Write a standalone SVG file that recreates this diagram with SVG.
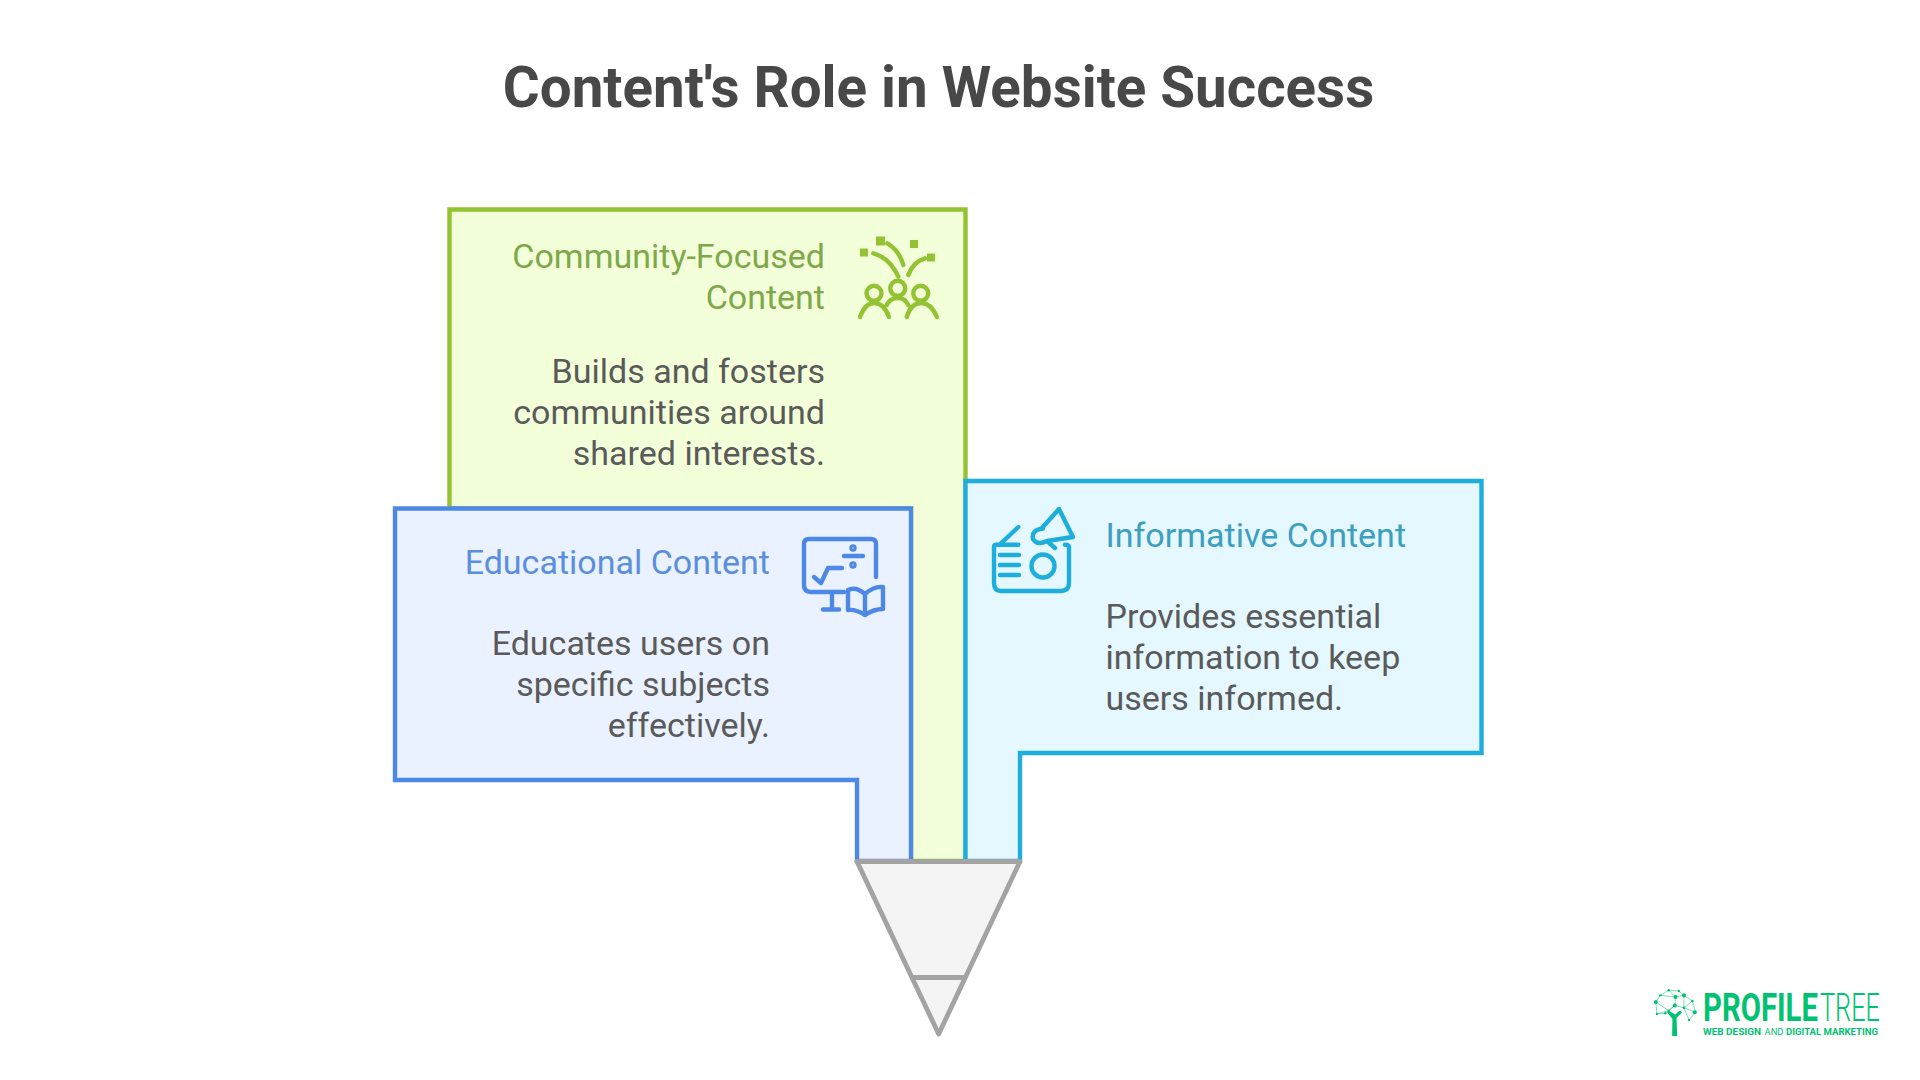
<svg xmlns="http://www.w3.org/2000/svg" width="1920" height="1080" viewBox="0 0 1920 1080">
<style>
text{font-family:Roboto,"Liberation Sans",sans-serif}
.t{font-size:34px;font-weight:400}
.b{font-size:34px;fill:#5a5a5a}
.e{text-anchor:end}
.box{stroke-width:4.4;stroke-linejoin:miter}
.ic{fill:none;stroke-width:4.4;stroke-linecap:round;stroke-linejoin:round}
.g{stroke:#93C332}
.bl{stroke:#4E88E7}
.c{stroke:#1EAEDB}
.lg{fill:#00C271}
.ln{stroke:#00C271;stroke-width:1.5}
.f{stroke:#A3A3A3;stroke-width:4.8;stroke-linejoin:round}
</style>
<rect width="1920" height="1080" fill="#fff"/>
<text id="title" x="938.5" y="107" text-anchor="middle" font-size="56.5" font-weight="700" fill="#484848">Content's Role in Website Success</text>

<g id="node-community">
<path class="box g" fill="#F2FFD8" d="M449.5 508.5V209.5H965.5V861H911V508.5Z"/>
<text class="t e" x="825" y="268" fill="#7FA84A">Community-Focused</text>
<text class="t e" x="825" y="309" fill="#7FA84A">Content</text>
<text class="b e" x="825" y="383">Builds and fosters</text>
<text class="b e" x="825" y="424">communities around</text>
<text class="b e" x="825" y="465">shared interests.</text>
<g class="ic g">
<path d="M887.3 243.3Q899 250 903.3 265M873.3 253.3Q890 258 898.3 276.7M925 258.3Q913 262 908.3 275"/>
<circle cx="874" cy="293.3" r="7.5"/><circle cx="897.7" cy="288.3" r="7.5"/><circle cx="920.7" cy="293.3" r="7.5"/>
<path d="M860 317Q865 303 874 303Q884 303 889 317M906.7 317Q911 303 921 303Q931 303 937 317M886.7 305Q890 298 898 298Q905 298 908.3 305"/>
</g>
<g fill="#93C332"><rect x="876" y="236.5" width="9" height="9"/><rect x="860" y="248.5" width="8" height="8"/><rect x="910" y="240" width="8" height="8"/><rect x="927" y="253.5" width="8" height="8"/></g>
</g>

<g id="node-informative">
<path class="box c" fill="#E5F7FF" d="M1020 861V753H1481.5V481H965.5V861Z"/>
<text class="t" x="1105.5" y="547" fill="#3D9FC0">Informative Content</text>
<text class="b" x="1105.5" y="628">Provides essential</text>
<text class="b" x="1105.5" y="669">information to keep</text>
<text class="b" x="1105.5" y="710">users informed.</text>
<g class="ic c" transform="translate(-5 -1)">
<path d="M1023.3 545.7H1001Q999 545.7 999 548V584Q999 592 1006 592H1065Q1074 592 1074 584V548Q1074 545.7 1070 545.7"/>
<path d="M1023.3 528L1006 544.3M1005 556H1024M1005 566H1024M1005 576H1024"/>
<circle cx="1048" cy="567" r="11.5"/>
<path d="M1047 529L1064 510L1078 538L1052 542M1048 529.5Q1036 531 1038 540Q1042 547 1052 542L1060 549"/>
</g>
</g>

<g id="node-educational">
<path class="box bl" fill="#EAF2FF" d="M857 861V780H395V508.5H911V861Z"/>
<text class="t e" x="770" y="574" fill="#5B8FDE">Educational Content</text>
<text class="b e" x="770" y="655">Educates users on</text>
<text class="b e" x="770" y="696">specific subjects</text>
<text class="b e" x="770" y="737">effectively.</text>
<g class="ic bl" transform="translate(-4 -1)">
<path d="M880 578V545Q880 540 875 540H813Q808 540 808 545V586Q808 593 815 593H848M836 594V610M827 610.5H843M848 557H867M818 578L825 584L832 569H846"/>
<circle cx="857" cy="549" r="1.5"/><circle cx="857" cy="566" r="1.5"/>
<path d="M852 591Q860 587 869 595Q878 587 887 588V610Q878 610 869 616Q860 610 852 611ZM869 595V616"/>
</g>
</g>

<g id="connectors">
<path class="f" d="M857 861.5H1020L938.7 1034Z" fill="#F4F4F4"/>
<path class="f" d="M911.5 977.5H966" fill="none"/>
</g>

<g id="logo">
<g transform="translate(1640 970) scale(.338)">
<path class="lg" d="M95 195H110L108 142L125 125L118 120L104 132L84 120L80 125L96 145Z"/>
<path class="ln" fill="none" d="M47 95L60 75L85 60L115 62L130 75L155 92L165 125L145 148M47 95L50 130L75 128L103 105L105 80L85 60M60 75L105 80L130 75M103 105L130 112L155 92M130 112L165 125M85 120L103 105M50 130L85 120M130 112L145 148M47 95L85 120M130 75L130 112"/>
<g class="lg"><circle cx="47" cy="95" r="6"/><circle cx="60" cy="75" r="3.5"/><circle cx="85" cy="60" r="3.5"/><circle cx="115" cy="62" r="3.5"/><circle cx="130" cy="75" r="6"/><circle cx="155" cy="92" r="4"/><circle cx="162" cy="125" r="6"/><circle cx="145" cy="148" r="3.5"/><circle cx="50" cy="130" r="3.5"/><circle cx="75" cy="128" r="3.5"/><circle cx="103" cy="105" r="6"/><circle cx="105" cy="80" r="6"/><circle cx="130" cy="112" r="4"/><circle cx="85" cy="120" r="3.5"/></g>
</g>
<text class="lg" x="1703" y="1021" font-size="39" font-weight="700" textLength="115" lengthAdjust="spacingAndGlyphs">PROFILE</text>
<text class="lg" x="1820" y="1021" font-size="39" font-weight="300" textLength="60" lengthAdjust="spacingAndGlyphs">TREE</text>
<text class="lg" x="1703" y="1035" font-size="9" font-weight="700" textLength="58" lengthAdjust="spacingAndGlyphs">WEB DESIGN</text>
<text class="lg" x="1764.5" y="1035" font-size="9" font-weight="400" textLength="19" lengthAdjust="spacingAndGlyphs">AND</text>
<text class="lg" x="1786" y="1035" font-size="9" font-weight="700" textLength="92" lengthAdjust="spacingAndGlyphs">DIGITAL MARKETING</text>
</g>
</svg>
